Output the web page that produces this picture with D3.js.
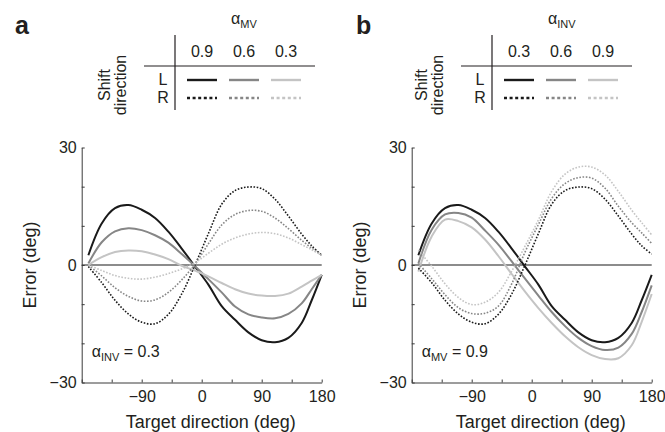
<!DOCTYPE html>
<html lang="en">
<head>
<meta charset="UTF-8">
<title>Error vs target direction</title>
<style>
  body { margin: 0; background: #fff; }
  svg text { font-family: "Liberation Sans", Arial, sans-serif; fill: #231f20; }
</style>
</head>
<body>
<script src="https://cdn.jsdelivr.net/npm/d3@7/dist/d3.min.js"></script>
<script>
// target directions (deg) where curves were read
var dirs = [-170, -150, -130, -110, -90, -70, -50, -30, -10, 10, 30, 50, 70, 90, 110, 130, 150, 165, 180];

// panel a : alpha_INV = 0.3, alpha_MV varies
var aL9 = [2.5, 10.6, 14.5, 15.3, 14.1, 12.0, 8.5, 4.2, -0.4, -5.0, -10.5, -14.0, -17.2, -19.2, -19.7, -18.6, -14.8, -9.0, -2.5];
var aL6 = [0.4, 5.8, 8.6, 9.4, 8.9, 7.6, 5.7, 2.8, -0.3, -3.6, -7.0, -10.6, -12.6, -13.4, -13.6, -12.5, -9.8, -6.2, -2.5];
var aL3 = [0, 2.0, 3.3, 3.7, 3.5, 2.7, 1.5, -0.2, -1.4, -2.9, -4.6, -6.2, -7.3, -7.8, -7.9, -7.3, -5.5, -4.0, -2.5];
var aR9 = [-0.4, -4.5, -9.0, -12.5, -14.6, -15.0, -12.6, -7.4, 0.0, 8.0, 15.5, 19.0, 19.9, 19.5, 16.8, 12.5, 7.9, 4.9, 2.5];
var aR6 = [0, -2.8, -5.8, -8.0, -9.2, -8.9, -7.0, -3.8, 0.2, 5.4, 10.2, 12.9, 13.9, 13.7, 12.0, 9.3, 6.3, 4.3, 2.5];
var aR3 = [0, -1.4, -2.7, -3.4, -3.6, -3.1, -2.2, -1.0, 0.6, 3.0, 5.3, 6.9, 7.9, 8.3, 8.0, 6.9, 5.2, 3.9, 2.5];

// panel b : alpha_MV = 0.9, alpha_INV varies
var bL3 = [2.5, 10.6, 14.5, 15.3, 14.1, 12.0, 8.5, 4.2, -0.4, -5.0, -10.5, -14.0, -17.2, -19.2, -19.7, -18.6, -14.8, -9.0, -2.5];
var bL6 = [0.4, 9.0, 12.9, 13.3, 12.1, 8.8, 5.2, 0.9, -3.5, -7.8, -12.0, -15.6, -18.6, -20.7, -21.7, -21.1, -17.6, -12.0, -5.2];
var bL9 = [-1.7, 7.3, 11.6, 11.2, 9.6, 6.5, 2.3, -2.3, -6.8, -11.0, -14.8, -18.2, -21.0, -23.0, -24.0, -23.8, -20.5, -14.5, -7.4];
var bR3 = [-0.8, -4.5, -9.0, -12.5, -14.6, -15.0, -12.6, -7.4, 0.0, 8.0, 15.5, 19.0, 19.9, 19.5, 16.8, 12.5, 7.9, 4.9, 2.8];
var bR6 = [0.4, -3.5, -7.6, -10.9, -12.4, -12.3, -10.5, -4.8, 3.3, 10.3, 17.0, 20.8, 22.3, 22.2, 19.6, 15.0, 10.8, 8.2, 5.5];
var bR9 = [3.8, -0.3, -4.8, -8.3, -10.1, -9.5, -7.0, -1.6, 4.8, 11.5, 18.8, 23.2, 25.0, 25.0, 23.0, 18.8, 14.0, 10.8, 7.7];

var colsA = ["0.9", "0.6", "0.3"];
var colsB = ["0.3", "0.6", "0.9"];
var rows = ["L", "R"];
var xTicks = [-180, -135, -90, -45, 0, 45, 90, 135, 180];
var xLabels = [-90, 0, 90, 180];
var yTicks = [-30, -20, -10, 0, 10, 20, 30];
var yLabels = [-30, 0, 30];

var shades = ["#1a1a1a", "#868686", "#c4c4c4"];

var svg = d3.select("body").append("svg").attr("width", 665).attr("height", 432);
svg.append("rect").attr("width", 665).attr("height", 432).attr("fill", "#fff");

var y = d3.scaleLinear().domain([-30, 30]).range([382.5, 147.5]);

function panel(opt) {
    var x = d3.scaleLinear().domain([-180, 180]).range([opt.x0, opt.x0 + 240]);
    var g = svg.append("g");

    // zero line
    g.append("line").attr("x1", x(-180)).attr("x2", x(180)).attr("y1", y(0)).attr("y2", y(0))
        .attr("stroke", "#8c8c8c").attr("stroke-width", 2);

    var line = d3.line().x(function(d) { return x(d[0]); }).y(function(d) { return y(d[1]); })
        .curve(d3.curveCatmullRom.alpha(0.5));

    opt.series.forEach(function(s) {
        g.append("path").datum(dirs.map(function(d, i) { return [d, s.v[i]]; }))
            .attr("d", line).attr("fill", "none")
            .attr("stroke", shades[s.c]).attr("stroke-width", s.dot ? 1.6 : 2)
            .attr("stroke-dasharray", s.dot ? "1.6,1.6" : null);
    });

    var fmt = d3.format("");
    var xa = g.append("g").attr("transform", "translate(0," + y(-30) + ")")
        .call(d3.axisBottom(x).tickValues(xTicks).tickSizeInner(-3).tickSizeOuter(0).tickPadding(8)
            .tickFormat(function(d) { return xLabels.indexOf(d) >= 0 ? fmt(d) : ""; }));
    var ya = g.append("g").attr("transform", "translate(" + x(-180) + ",0)")
        .call(d3.axisLeft(y).tickValues(yTicks).tickSizeInner(-3).tickSizeOuter(0).tickPadding(5)
            .tickFormat(function(d) { return yLabels.indexOf(d) >= 0 ? fmt(d) : ""; }));
    [xa, ya].forEach(function(a) {
        a.selectAll("path, line").attr("stroke", "#3a3a3a").attr("stroke-width", 1);
        a.selectAll("text").attr("font-size", 16).attr("fill", "#231f20")
            .attr("font-family", "'Liberation Sans', Arial, sans-serif");
    });

    g.append("text").attr("x", opt.x0 + 129).attr("y", 428).attr("text-anchor", "middle")
        .attr("font-size", 18).text("Target direction (deg)");
    g.append("text").attr("transform", "translate(" + (opt.x0 - 46) + "," + y(0) + ") rotate(-90)")
        .attr("text-anchor", "middle").attr("font-size", 18).text("Error (deg)");

    // in-plot annotation
    var t = g.append("text").attr("x", opt.x0 + 10).attr("y", 357).attr("font-size", 16);
    t.append("tspan").text("\u03b1");
    t.append("tspan").attr("font-size", 11).attr("dy", 4).text(opt.note[0]);
    t.append("tspan").attr("dy", -4).text(" = " + opt.note[1]);

    // panel letter
    g.append("text").attr("x", opt.letterX).attr("y", 34).attr("font-size", 25)
        .attr("font-weight", "bold").text(opt.letter);

    // legend table
    var lx = opt.lx;
    g.append("line").attr("x1", lx).attr("x2", lx).attr("y1", 35).attr("y2", 110)
        .attr("stroke", "#231f20").attr("stroke-width", 1.2);
    g.append("line").attr("x1", lx - 31).attr("x2", lx + 140).attr("y1", 66).attr("y2", 66)
        .attr("stroke", "#231f20").attr("stroke-width", 1.2);
    var h = g.append("text").attr("x", lx + 56).attr("y", 24).attr("font-size", 16);
    h.append("tspan").text("\u03b1");
    h.append("tspan").attr("font-size", 11).attr("dy", 4).text(opt.head);

    var cx = [lx + 27, lx + 69, lx + 111];
    opt.cols.forEach(function(c, i) {
        g.append("text").attr("x", cx[i]).attr("y", 57).attr("text-anchor", "middle")
            .attr("font-size", 16).text(c);
        rows.forEach(function(r, j) {
            g.append("line").attr("x1", cx[i] - 15).attr("x2", cx[i] + 15)
                .attr("y1", 80 + j * 18).attr("y2", 80 + j * 18)
                .attr("stroke", shades[i]).attr("stroke-width", 2.4)
                .attr("stroke-dasharray", j ? "3,2.6" : null);
        });
    });
    rows.forEach(function(r, j) {
        g.append("text").attr("x", lx - 12).attr("y", 85 + j * 18).attr("text-anchor", "middle")
            .attr("font-size", 16).text(r);
    });
    var sd = g.append("g").attr("transform", "translate(" + (lx - 65) + ",85) rotate(-90)");
    sd.append("text").attr("x", 0).attr("y", 0).attr("text-anchor", "middle").attr("font-size", 16).text("Shift");
    sd.append("text").attr("x", 0).attr("y", 16).attr("text-anchor", "middle").attr("font-size", 16).text("direction");
}

panel({
    x0: 81.7, letter: "a", letterX: 15, lx: 175, head: "MV", cols: colsA, note: ["INV", "0.3"],
    series: [
        {v: aL9, c: 0}, {v: aL6, c: 1}, {v: aL3, c: 2},
        {v: aR9, c: 0, dot: true}, {v: aR6, c: 1, dot: true}, {v: aR3, c: 2, dot: true}
    ]
});
panel({
    x0: 411.7, letter: "b", letterX: 356, lx: 492, head: "INV", cols: colsB, note: ["MV", "0.9"],
    series: [
        {v: bL3, c: 0}, {v: bL6, c: 1}, {v: bL9, c: 2},
        {v: bR3, c: 0, dot: true}, {v: bR6, c: 1, dot: true}, {v: bR9, c: 2, dot: true}
    ]
});
</script>
</body>
</html>
